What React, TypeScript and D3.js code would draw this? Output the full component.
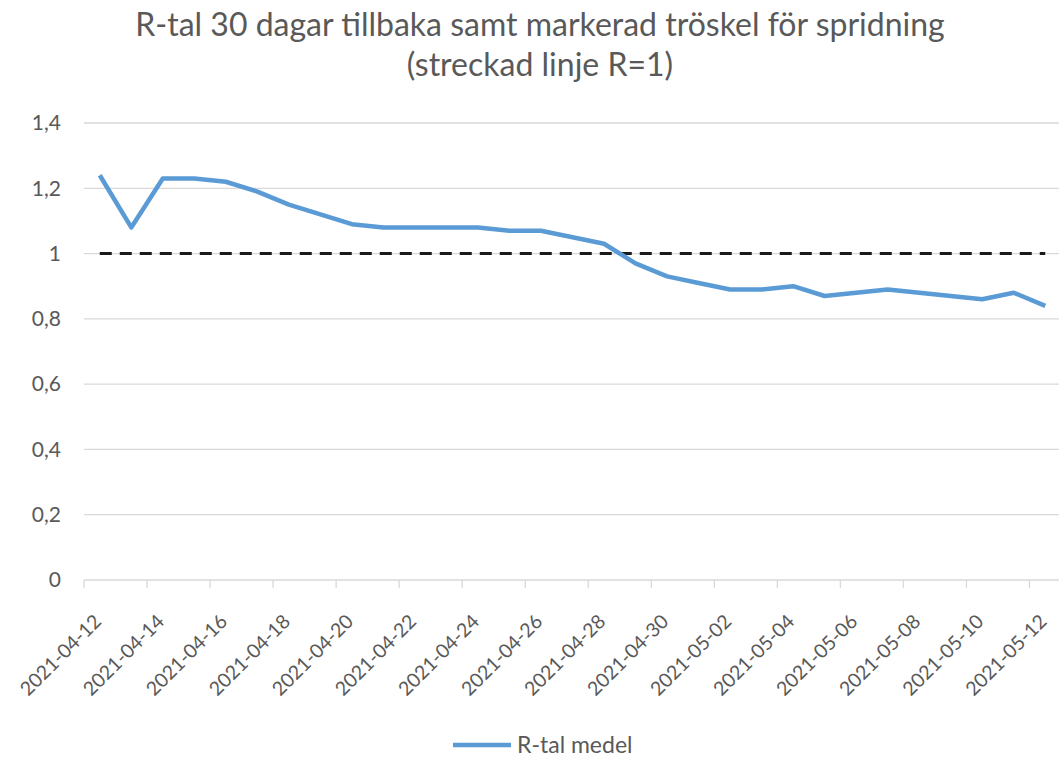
import { useRef, useEffect } from 'react';
import * as d3 from 'd3';

const TITLE_LINES = [
  'R-tal 30 dagar tillbaka samt markerad tröskel för spridning',
  '(streckad linje R=1)',
];
const SERIES_NAME = 'R-tal medel';

const DATES = [
  '2021-04-12', '2021-04-13', '2021-04-14', '2021-04-15', '2021-04-16',
  '2021-04-17', '2021-04-18', '2021-04-19', '2021-04-20', '2021-04-21',
  '2021-04-22', '2021-04-23', '2021-04-24', '2021-04-25', '2021-04-26',
  '2021-04-27', '2021-04-28', '2021-04-29', '2021-04-30', '2021-05-01',
  '2021-05-02', '2021-05-03', '2021-05-04', '2021-05-05', '2021-05-06',
  '2021-05-07', '2021-05-08', '2021-05-09', '2021-05-10', '2021-05-11',
  '2021-05-12',
];

const R_VALUES = [
  1.24, 1.08, 1.23, 1.23, 1.22, 1.19, 1.15, 1.12, 1.09, 1.08,
  1.08, 1.08, 1.08, 1.07, 1.07, 1.05, 1.03, 0.97, 0.93, 0.91,
  0.89, 0.89, 0.9, 0.87, 0.88, 0.89, 0.88, 0.87, 0.86, 0.88,
  0.84,
];

const THRESHOLD = 1;
const Y_TICKS = [0, 0.2, 0.4, 0.6, 0.8, 1, 1.2, 1.4];

const WIDTH = 1059;
const HEIGHT = 757;
const FONT = 'Lato, "Open Sans", sans-serif';
const TEXT_COLOR = '#595959';
const GRID_COLOR = '#d9d9d9';
const LINE_COLOR = '#5b9bd5';

const margin = { top: 123, right: -2, bottom: 177, left: 84 };

const App = () => {
  const svgRef = useRef<SVGSVGElement | null>(null);

  useEffect(() => {
    const root = d3.select(svgRef.current);
    root.selectAll('*').remove();

    const innerW = WIDTH - margin.left - margin.right;
    const innerH = HEIGHT - margin.top - margin.bottom;

    root
      .append('rect')
      .attr('width', WIDTH)
      .attr('height', HEIGHT)
      .attr('fill', 'white');

    // title
    root
      .append('g')
      .selectAll('text')
      .data(TITLE_LINES)
      .join('text')
      .attr('x', 540)
      .attr('y', (d, i) => 36 + i * 40)
      .attr('text-anchor', 'middle')
      .style('font-family', FONT)
      .style('font-size', '32px')
      .style('fill', TEXT_COLOR)
      .text((d) => d);

    const svg = root
      .append('g')
      .attr('transform', `translate(${margin.left},${margin.top})`);

    const x = d3.scaleBand().domain(DATES).range([0, innerW]).padding(0);
    const cx = (d: string) => (x(d) as number) + x.bandwidth() / 2;

    const y = d3.scaleLinear().domain([0, 1.4]).range([innerH, 0]);

    // gridlines
    svg
      .append('g')
      .selectAll('line')
      .data(Y_TICKS.filter((t) => t > 0))
      .join('line')
      .attr('x1', 0)
      .attr('x2', innerW)
      .attr('y1', (d) => y(d))
      .attr('y2', (d) => y(d))
      .attr('stroke', GRID_COLOR)
      .attr('stroke-width', 1.3);

    // y labels
    svg
      .append('g')
      .selectAll('text')
      .data(Y_TICKS)
      .join('text')
      .attr('x', -23)
      .attr('y', (d) => y(d))
      .attr('dy', '0.35em')
      .attr('text-anchor', 'end')
      .style('font-family', FONT)
      .style('font-size', '21px')
      .style('fill', TEXT_COLOR)
      .text((d) => d3.format('.1~f')(d).replace('.', ','));

    // x axis line + ticks between categories, every second one
    svg
      .append('line')
      .attr('x1', 0)
      .attr('x2', innerW)
      .attr('y1', innerH)
      .attr('y2', innerH)
      .attr('stroke', GRID_COLOR)
      .attr('stroke-width', 1.3);

    const labelled = DATES.filter((d, i) => i % 2 === 0);

    svg
      .append('g')
      .selectAll('line')
      .data(labelled)
      .join('line')
      .attr('x1', (d) => x(d) as number)
      .attr('x2', (d) => x(d) as number)
      .attr('y1', innerH)
      .attr('y2', innerH + 8)
      .attr('stroke', GRID_COLOR)
      .attr('stroke-width', 1.3);

    svg
      .append('g')
      .selectAll('text')
      .data(labelled)
      .join('text')
      .attr(
        'transform',
        (d) => `translate(${cx(d) - 7},${innerH + 33}) rotate(-45)`
      )
      .attr('text-anchor', 'end')
      .attr('dy', '0.7em')
      .style('font-family', FONT)
      .style('font-size', '19.5px')
      .style('fill', TEXT_COLOR)
      .text((d) => d);

    // threshold line
    svg
      .append('line')
      .attr('x1', cx(DATES[0]))
      .attr('x2', cx(DATES[DATES.length - 1]))
      .attr('y1', y(THRESHOLD))
      .attr('y2', y(THRESHOLD))
      .attr('stroke', '#1a1a1a')
      .attr('stroke-width', 3)
      .attr('stroke-dasharray', '12 8');

    // R series
    const line = d3
      .line<number>()
      .x((d, i) => cx(DATES[i]))
      .y((d) => y(d));

    svg
      .append('path')
      .datum(R_VALUES)
      .attr('d', line)
      .attr('fill', 'none')
      .attr('stroke', LINE_COLOR)
      .attr('stroke-width', 4.5)
      .attr('stroke-linejoin', 'round');

    // legend
    const legend = root.append('g').attr('transform', 'translate(453,745)');
    legend
      .append('line')
      .attr('x1', 0)
      .attr('x2', 58)
      .attr('stroke', LINE_COLOR)
      .attr('stroke-width', 4.5);
    legend
      .append('text')
      .attr('x', 64)
      .attr('dy', '0.35em')
      .style('font-family', FONT)
      .style('font-size', '23px')
      .style('fill', TEXT_COLOR)
      .text(SERIES_NAME);
  }, []);

  return (
    <svg
      ref={svgRef}
      width={WIDTH}
      height={HEIGHT}
      style={{ position: 'absolute', left: 0, top: 0 }}
    />
  );
};

export default App;
